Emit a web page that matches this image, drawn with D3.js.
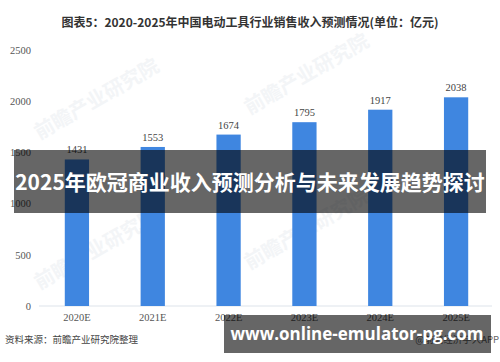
<!DOCTYPE html>
<html>
<head>
<meta charset="utf-8">
<script src="https://cdn.jsdelivr.net/npm/d3@7"></script>
<style>
  body { margin: 0; background: #fff; }
  svg { display: block; }
</style>
</head>
<body>
<div id="chart"></div>
<script>
// chart data
var years = ["2020E", "2021E", "2022E", "2023E", "2024E", "2025E"];
var revenue = [1431, 1553, 1674, 1795, 1917, 2038];
var yTicks = [0, 500, 1000, 1500, 2000, 2500];

var title = "图表5：2020-2025年中国电动工具行业销售收入预测情况(单位：亿元)";
var source = "资料来源：前瞻产业研究院整理";
var appMark = "@前瞻经济学人APP";
var banner = "2025年欧冠商业收入预测分析与未来发展趋势探讨";
var site = "www.online-emulator-pg.com";

var W = 500, H = 362;
var margin = { top: 50, right: 6, bottom: 56, left: 39 };

var svg = d3.select("#chart").append("svg")
    .attr("width", W)
    .attr("height", H);

// Title
svg.append("text")
    .attr("x", 250)
    .attr("y", 27)
    .attr("text-anchor", "middle")
    .style("font-family", "'Noto Sans CJK SC', sans-serif")
    .style("font-weight", "bold")
    .style("font-size", "12px")
    .style("fill", "#333")
    .text(title);

// Faint watermarks
var marks = [[100, 105], [310, 80], [100, 255], [310, 235]];
marks.forEach(function (m) {
    svg.append("text")
        .attr("transform", "translate(" + m[0] + "," + m[1] + ") rotate(-30)")
        .attr("text-anchor", "middle")
        .style("font-family", "'Noto Sans CJK SC', sans-serif")
        .style("font-weight", "bold")
        .style("font-size", "20px")
        .style("fill", "#f3f5f7")
        .text("前瞻产业研究院");
});

var x = d3.scaleBand()
    .domain(years)
    .range([margin.left, W - margin.right])
    .paddingInner(0.68)
    .paddingOuter(0.34);

var y = d3.scaleLinear()
    .domain([0, 2500])
    .range([H - margin.bottom, margin.top]);

// Baseline
svg.append("line")
    .attr("x1", margin.left)
    .attr("x2", W - 8)
    .attr("y1", y(0))
    .attr("y2", y(0))
    .attr("stroke", "#dde3ea")
    .attr("stroke-width", 1);

// Y axis labels
var yAxis = svg.append("g")
    .attr("transform", "translate(" + (margin.left - 8) + ",0)")
    .call(d3.axisLeft(y).tickValues(yTicks).tickFormat(d3.format("d")).tickSize(0).tickPadding(0));
yAxis.select(".domain").remove();
yAxis.selectAll("text")
    .style("font-family", "'Liberation Serif', serif")
    .style("font-size", "10.5px")
    .style("fill", "#555");

// X axis labels
var xAxis = svg.append("g")
    .attr("transform", "translate(0," + y(0) + ")")
    .call(d3.axisBottom(x).tickSize(0).tickPadding(8));
xAxis.select(".domain").remove();
xAxis.selectAll("text")
    .style("font-family", "'Liberation Serif', serif")
    .style("font-size", "10.5px")
    .style("fill", "#555");

var data = years.map(function (d, i) { return { year: d, value: revenue[i] }; });

// Bars
svg.selectAll(".bar")
    .data(data)
    .enter().append("rect")
    .attr("class", "bar")
    .attr("x", function (d) { return x(d.year); })
    .attr("y", function (d) { return y(d.value); })
    .attr("width", x.bandwidth())
    .attr("height", function (d) { return y(0) - y(d.value); })
    .attr("fill", "#3f86e0");

// Value labels
svg.selectAll(".val")
    .data(data)
    .enter().append("text")
    .attr("class", "val")
    .attr("x", function (d) { return x(d.year) + x.bandwidth() / 2; })
    .attr("y", function (d) { return y(d.value) - 6; })
    .attr("text-anchor", "middle")
    .style("font-family", "'Liberation Serif', serif")
    .style("font-size", "10.5px")
    .style("fill", "#444")
    .text(function (d) { return d.value; });

// Source
svg.append("text")
    .attr("x", 5)
    .attr("y", 343)
    .style("font-family", "'Noto Sans CJK SC', sans-serif")
    .style("font-size", "9.5px")
    .style("fill", "#444")
    .text(source);

svg.append("text")
    .attr("x", 499)
    .attr("y", 343)
    .attr("text-anchor", "end")
    .style("font-family", "'Noto Sans CJK SC', sans-serif")
    .style("font-size", "9.5px")
    .style("fill", "#666")
    .text(appMark);

// Overlay banners
svg.append("rect")
    .attr("x", 14).attr("y", 150)
    .attr("width", 472).attr("height", 63)
    .attr("fill", "rgba(0,0,0,0.6)");
svg.append("text")
    .attr("x", 250)
    .attr("y", 190)
    .attr("text-anchor", "middle")
    .style("font-family", "'Noto Sans CJK SC', sans-serif")
    .style("font-weight", "bold")
    .style("font-size", "21px")
    .style("fill", "#fff")
    .text(banner);

svg.append("rect")
    .attr("x", 224).attr("y", 315)
    .attr("width", 267).attr("height", 38)
    .attr("fill", "rgba(0,0,0,0.6)");
svg.append("text")
    .attr("x", 357)
    .attr("y", 340)
    .attr("text-anchor", "middle")
    .style("font-family", "'Open Sans', sans-serif")
    .style("font-weight", "bold")
    .style("font-size", "17px")
    .style("fill", "#fff")
    .text(site);
</script>
</body>
</html>
